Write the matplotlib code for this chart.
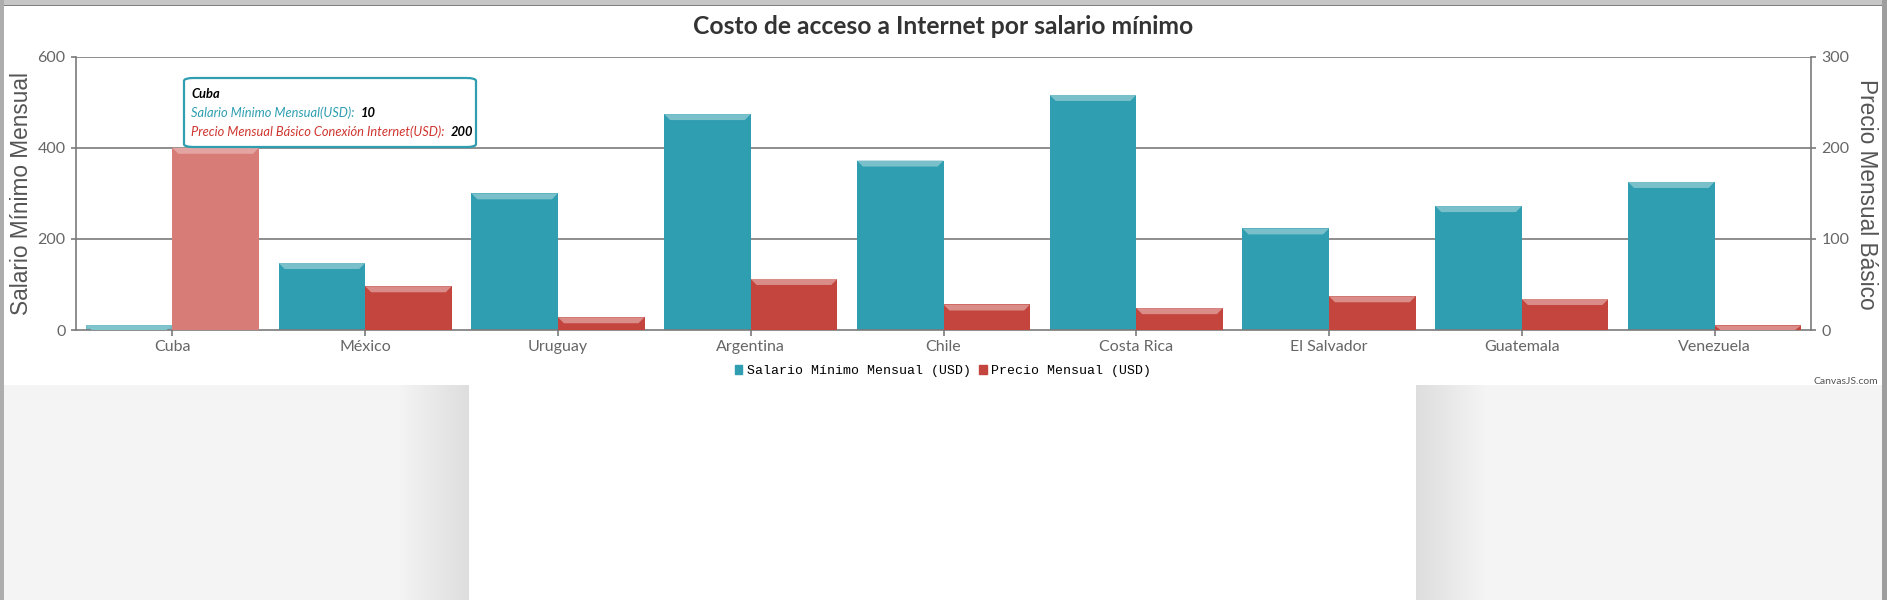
import numpy as np
import matplotlib
matplotlib.use("Agg")
import matplotlib.pyplot as plt
from matplotlib.patches import Polygon, FancyBboxPatch, Patch

# datos
paises = ["Cuba", "México", "Uruguay", "Argentina", "Chile",
          "Costa Rica", "El Salvador", "Guatemala", "Venezuela"]
salario = [10, 147, 300, 474, 372, 516, 223, 272, 325]
precio = [200, 48, 14, 56, 28, 24, 37, 34, 5]

nombre_salario = "Salario Mínimo Mensual (USD)"
nombre_precio = "Precio Mensual (USD)"
tip_salario = "Salario Mínimo Mensual(USD):"
tip_precio = "Precio Mensual Básico Conexión Internet(USD):"
titulo = "Costo de acceso a Internet por salario mínimo"
eje_izq = "Salario Mínimo Mensual"
eje_der = "Precio Mensual Básico"
resaltado = 0  # barra con el tooltip abierto

TEAL = "#2e9eb0"
TEAL_TOP = "#79c0cb"
TEAL_HI = "#72bcc8"
TEAL_HI_TOP = "#80c4ce"
RED = "#c4453e"
RED_TOP = "#d98c88"
RED_HI = "#d77c77"
RED_HI_TOP = "#e4a5a2"
GRID = "#7a7a7a"
LBL = "#666666"

W, H = 1887, 600
fig = plt.figure(figsize=(W / 100, H / 100), dpi=100)

# fondo de la pagina
bg = fig.add_axes([0, 0, 1, 1], zorder=-5)
img = np.ones((H, W, 3))
img[385:, :, :] = 0.957
img[385:, 469:1416, :] = 1.0
sh = np.linspace(0.957, 0.87, 70)
img[385:, 469 - 70:469, :] = sh[None, :, None]
img[385:, 1416:1416 + 70, :] = sh[::-1][None, :, None]
img[0:5, :, :] = 0.78
img[5:6, :, :] = 0.5
img[:, 0:4, :] = 0.68
img[:, W - 5:, :] = 0.62
bg.imshow(img, extent=[0, W, H, 0], aspect="auto", interpolation="nearest")
bg.set_xlim(0, W)
bg.set_ylim(H, 0)
bg.axis("off")

ax = fig.add_axes([76 / W, 1 - 330 / H, (1811 - 76) / W, (330 - 56.7) / H])
ax.set_facecolor("none")
ax2 = ax.twinx()

x = np.arange(len(paises))
w = 0.449
ax.set_xlim(-0.5, len(paises) - 0.5)
ax.set_ylim(0, 600)
ax2.set_ylim(0, 300)
ax.set_yticks([0, 200, 400, 600])
ax2.set_yticks([0, 100, 200, 300])
ax.set_xticks(x)
ax.set_xticklabels(paises)


def barras(axis, xs, vals, col, col_top, col_hi, col_hi_top):
    ymax = axis.get_ylim()[1]
    upp = ymax / axis.bbox.height
    xpp = len(paises) / axis.bbox.width
    for i, (xc, v) in enumerate(zip(xs, vals)):
        c, ct = (col_hi, col_hi_top) if i == resaltado else (col, col_top)
        axis.bar(xc, v, width=w, color=c, linewidth=0, zorder=2)
        d = min(6 * upp, v)
        x0, x1 = xc - w / 2, xc + w / 2
        ins = 6 * xpp
        axis.add_patch(Polygon([(x0, v), (x1, v), (x1 - ins, v - d), (x0 + ins, v - d)],
                               closed=True, facecolor=ct, linewidth=0, zorder=3))


barras(ax, x - w / 2, salario, TEAL, TEAL_TOP, TEAL_HI, TEAL_HI_TOP)
barras(ax2, x + w / 2, precio, RED, RED_TOP, RED_HI, RED_HI_TOP)

for yv in [200, 400, 600]:
    ax.axhline(yv, color=GRID, lw=1.2, zorder=1)
ax.set_axisbelow(True)

for a in (ax, ax2):
    for s in a.spines.values():
        s.set_color(GRID)
        s.set_linewidth(1.2)
    a.spines["top"].set_visible(False)
ax.spines["right"].set_visible(False)
ax2.spines["left"].set_visible(False)
ax2.spines["bottom"].set_visible(False)

ax.tick_params(axis="y", length=3.5, width=1.2, color=GRID, pad=4,
               labelcolor=LBL, labelsize=11.5)
ax.tick_params(axis="x", length=4, width=1.2, color=GRID, pad=3,
               labelcolor=LBL, labelsize=11.5)
ax2.tick_params(axis="y", length=3.5, width=1.2, color=GRID, pad=4,
                labelcolor=LBL, labelsize=11.5)
for lab in ax.get_xticklabels() + ax.get_yticklabels() + ax2.get_yticklabels():
    lab.set_family("Lato")

fig.text(943.5 / W, 1 - 26 / H, titulo, ha="center", va="center",
         fontsize=17.7, fontweight="bold", color="#333333", family="Lato")
fig.text(22 / W, 1 - 194 / H, eje_izq, rotation=90, ha="center", va="center",
         fontsize=16.3, color="#555555", family="Liberation Sans")
fig.text(1867 / W, 1 - 194 / H, eje_der, rotation=-90, ha="center", va="center",
         fontsize=16.3, color="#555555", family="Liberation Sans")

# leyenda
handles = [Patch(color=TEAL, label=nombre_salario), Patch(color=RED, label=nombre_precio)]
fig.legend(handles=handles, loc="center", bbox_to_anchor=(943 / W, 1 - 371 / H),
           ncol=2, frameon=False, handlelength=0.6, handleheight=0.6,
           handletextpad=0.35, columnspacing=0.6,
           prop={"family": "Liberation Mono", "size": 9.5})

fig.text(1878 / W, 1 - 382 / H, "CanvasJS.com", ha="right", va="center",
         fontsize=7.5, color="#555555", family="Lato")

# tooltip
bx0, by0, bx1, by1 = 184, 78, 476, 147
tip = FancyBboxPatch((bx0 / W, 1 - by1 / H), (bx1 - bx0) / W, (by1 - by0) / H,
                     boxstyle="round,pad=0,rounding_size=0.005",
                     transform=fig.transFigure, facecolor="white",
                     edgecolor=TEAL, linewidth=1.6, zorder=10)
fig.add_artist(tip)
tx = 191 / W
fs_tip = 9.3
t0 = fig.text(tx, 1 - 94 / H, paises[resaltado], ha="left", va="center", fontsize=fs_tip,
              style="italic", fontweight="bold", color="black", family="Lato", zorder=11)
t1 = fig.text(tx, 1 - 113 / H, tip_salario, ha="left", va="center", fontsize=fs_tip,
              style="italic", color=TEAL, family="Lato", zorder=11)
t2 = fig.text(tx, 1 - 132 / H, tip_precio, ha="left", va="center", fontsize=fs_tip,
              style="italic", color="#d0352f", family="Lato", zorder=11)
for lab, val in ((t1, salario[resaltado]), (t2, precio[resaltado])):
    fig.add_artist(plt.Annotation(str(val), xy=(1, 0.5), xycoords=lab, xytext=(4.5, 0),
                                  textcoords="offset points", ha="left", va="center",
                                  fontsize=fs_tip, style="italic", fontweight="bold",
                                  color="black", family="Lato", zorder=11))

fig.savefig("out.png", dpi=100)
